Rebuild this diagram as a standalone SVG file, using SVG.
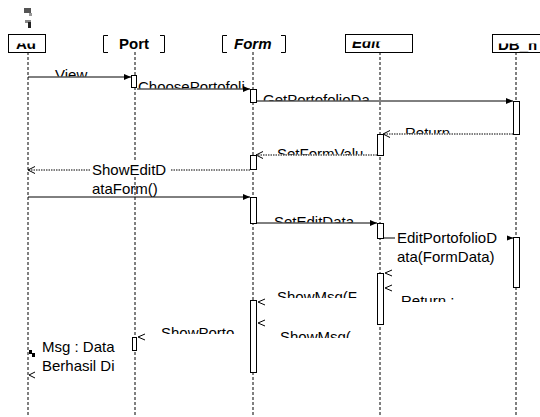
<svg xmlns="http://www.w3.org/2000/svg" width="540" height="417" viewBox="0 0 540 417">
<style>
.life{stroke:#000;stroke-width:1;stroke-dasharray:3,2;fill:none}
.act{fill:#fff;stroke:#000;stroke-width:1}
.msg{stroke:#000;stroke-width:1;fill:none}
.ret{stroke:#000;stroke-width:1;stroke-dasharray:1.5,1;fill:none}
.hdr{fill:#fff;stroke:#000;stroke-width:1}
.br{fill:none;stroke:#000;stroke-width:1}
.t{font-family:"Liberation Sans",Arial,sans-serif;font-size:15px;fill:#000}
.hb{font-family:"Liberation Sans",Arial,sans-serif;font-size:15px;font-weight:bold;fill:#000}
.bg{fill:#fff;stroke:none}
</style>
<defs>
<marker id="fh" markerWidth="8" markerHeight="8" refX="7" refY="4" orient="auto" markerUnits="userSpaceOnUse">
<path d="M0,1 L7,4 L0,7 Z" fill="#000"/>
</marker>
<marker id="oh" markerWidth="8" markerHeight="8" refX="7" refY="4" orient="auto" markerUnits="userSpaceOnUse">
<path d="M0,0.5 L7,4 L0,7.5" fill="none" stroke="#000" stroke-width="1"/>
</marker>
<clipPath id="cView"><rect x="40" y="60" width="80" height="16.5"/></clipPath>
<clipPath id="cChoose"><rect x="136" y="70" width="120" height="18.5"/></clipPath>
<clipPath id="cGet"><rect x="258" y="85" width="130" height="15.5"/></clipPath>
<clipPath id="cRet1"><rect x="395" y="120" width="60" height="13.5"/></clipPath>
<clipPath id="cSet"><rect x="270" y="140" width="100" height="14.5"/></clipPath>
<clipPath id="cSetE"><rect x="270" y="205" width="100" height="17.5"/></clipPath>
<clipPath id="cRet2"><rect x="395" y="285" width="70" height="17"/></clipPath>
<clipPath id="cMsg1"><rect x="270" y="285" width="100" height="13"/></clipPath>
<clipPath id="cMsg2"><rect x="270" y="325" width="100" height="13"/></clipPath>
<clipPath id="cShowP"><rect x="155" y="320" width="90" height="14"/></clipPath>
<clipPath id="cAd"><rect x="9" y="43.5" width="35" height="8"/></clipPath>
<clipPath id="cEdit"><rect x="346" y="41.5" width="60" height="10"/></clipPath>
<clipPath id="cDB"><rect x="494" y="43.5" width="46" height="8"/></clipPath>
</defs>

<g id="connectors">
<line class="msg" x1="28" y1="77" x2="131" y2="77" marker-end="url(#fh)"/>
<line class="msg" x1="137" y1="89" x2="250" y2="89" marker-end="url(#fh)"/>
<line class="msg" x1="256" y1="101" x2="513" y2="101" marker-end="url(#fh)"/>
<line class="ret" x1="513" y1="134" x2="383" y2="134" marker-end="url(#oh)"/>
<line class="ret" x1="377" y1="155" x2="256" y2="155" marker-end="url(#oh)"/>
<line class="ret" x1="250" y1="170" x2="28" y2="170" marker-end="url(#oh)"/>
<line class="msg" x1="28" y1="197" x2="250" y2="197" marker-end="url(#fh)"/>
<line class="msg" x1="256" y1="223" x2="377" y2="223" marker-end="url(#fh)"/>
<line class="msg" x1="383" y1="238" x2="513" y2="238" marker-end="url(#fh)"/>
<path class="msg" d="M392,270 L385,273 L392,276"/>
<path class="msg" d="M392,285 L385,288 L392,291"/>
<path class="msg" d="M265,299 L258,302 L265,305"/>
<path class="msg" d="M265,320 L258,323 L265,326"/>
<path class="msg" d="M145,334 L138,337 L145,340"/>
<path class="msg" d="M35,372 L29,375 L35,378"/>
</g>

<g id="lifelines">
<line class="life" x1="28" y1="52" x2="28" y2="417"/>
<line class="life" x1="135" y1="52" x2="135" y2="417"/>
<line class="life" x1="253" y1="52" x2="253" y2="417"/>
<line class="life" x1="380" y1="52" x2="380" y2="417"/>
<line class="life" x1="516" y1="52" x2="516" y2="417"/>
</g>

<g id="actor-icon">
<rect x="24" y="8" width="7" height="5" fill="#555"/>
<rect x="29" y="13" width="3" height="3" fill="#999"/>
<rect x="25" y="20" width="6" height="3" fill="#888"/>
<rect x="28" y="22" width="3" height="6" fill="#222"/>
</g>

<g id="Ad">
<rect class="hdr" x="8.5" y="34.5" width="37" height="18"/>
<text class="hb" x="16" y="49" clip-path="url(#cAd)">Ad</text>
</g>
<g id="Port">
<path class="br" d="M108,35.5 H103.5 V52.5 H108"/>
<path class="br" d="M160,35.5 H164.5 V52.5 H160"/>
<text class="hb" x="119" y="49">Port</text>
</g>
<g id="Form">
<path class="br" d="M227,35.5 H222.5 V52.5 H227"/>
<path class="br" d="M281,35.5 H285.5 V52.5 H281"/>
<text class="hb" x="234" y="49" font-style="italic">Form</text>
</g>
<g id="Edit">
<rect class="hdr" x="345.5" y="34.5" width="67" height="18"/>
<text class="hb" x="352" y="48" font-style="italic" clip-path="url(#cEdit)">Edit</text>
</g>
<g id="DB">
<rect class="hdr" x="492.5" y="34.5" width="60" height="18"/>
<text class="hb" x="498" y="50" clip-path="url(#cDB)">DB_n</text>
</g>

<g id="activations">
<rect class="act" x="131.5" y="75.5" width="5" height="12"/>
<rect class="act" x="250.5" y="89.5" width="6" height="13"/>
<rect class="act" x="513.5" y="101.5" width="6" height="33"/>
<rect class="act" x="377.5" y="134.5" width="6" height="21"/>
<rect class="act" x="250.5" y="155.5" width="6" height="14"/>
<rect class="act" x="250.5" y="197.5" width="6" height="26"/>
<rect class="act" x="377.5" y="223.5" width="6" height="15"/>
<rect class="act" x="513.5" y="237.5" width="6" height="50"/>
<rect class="act" x="377.5" y="273.5" width="6" height="51"/>
<rect class="act" x="250.5" y="300.5" width="6" height="72"/>
<rect class="act" x="132.5" y="337.5" width="4" height="13"/>
</g>

<g id="labels">
<text class="t" x="55" y="80" clip-path="url(#cView)">View</text>
<text class="t" x="138" y="92" clip-path="url(#cChoose)">ChoosePortofoli</text>
<text class="t" x="263" y="105" clip-path="url(#cGet)">GetPortofolioDa</text>
<text class="t" x="405" y="138" clip-path="url(#cRet1)">Return :</text>
<text class="t" x="277" y="159" clip-path="url(#cSet)">SetFormValu</text>
<rect class="bg" x="90" y="162" width="80" height="14"/>
<text class="t" x="92" y="175">ShowEditD</text>
<text class="t" x="92" y="194">ataForm()</text>
<text class="t" x="274" y="227" clip-path="url(#cSetE)">SetEditData</text>
<rect class="bg" x="395" y="230" width="112" height="14"/>
<text class="t" x="397" y="243">EditPortofolioD</text>
<text class="t" x="397" y="262">ata(FormData)</text>
<text class="t" x="401" y="306" clip-path="url(#cRet2)">Return :</text>
<text class="t" x="277" y="302" clip-path="url(#cMsg1)">ShowMsg(F</text>
<text class="t" x="280" y="342" clip-path="url(#cMsg2)">ShowMsg(</text>
<text class="t" x="161" y="338" clip-path="url(#cShowP)">ShowPorto</text>
<path d="M29,350 H32 V353 H35 V357 H32 V354 H29 Z" fill="#000"/>
<text class="t" x="42" y="352">Msg : Data</text>
<text class="t" x="42" y="371">Berhasil Di</text>
</g>
</svg>
